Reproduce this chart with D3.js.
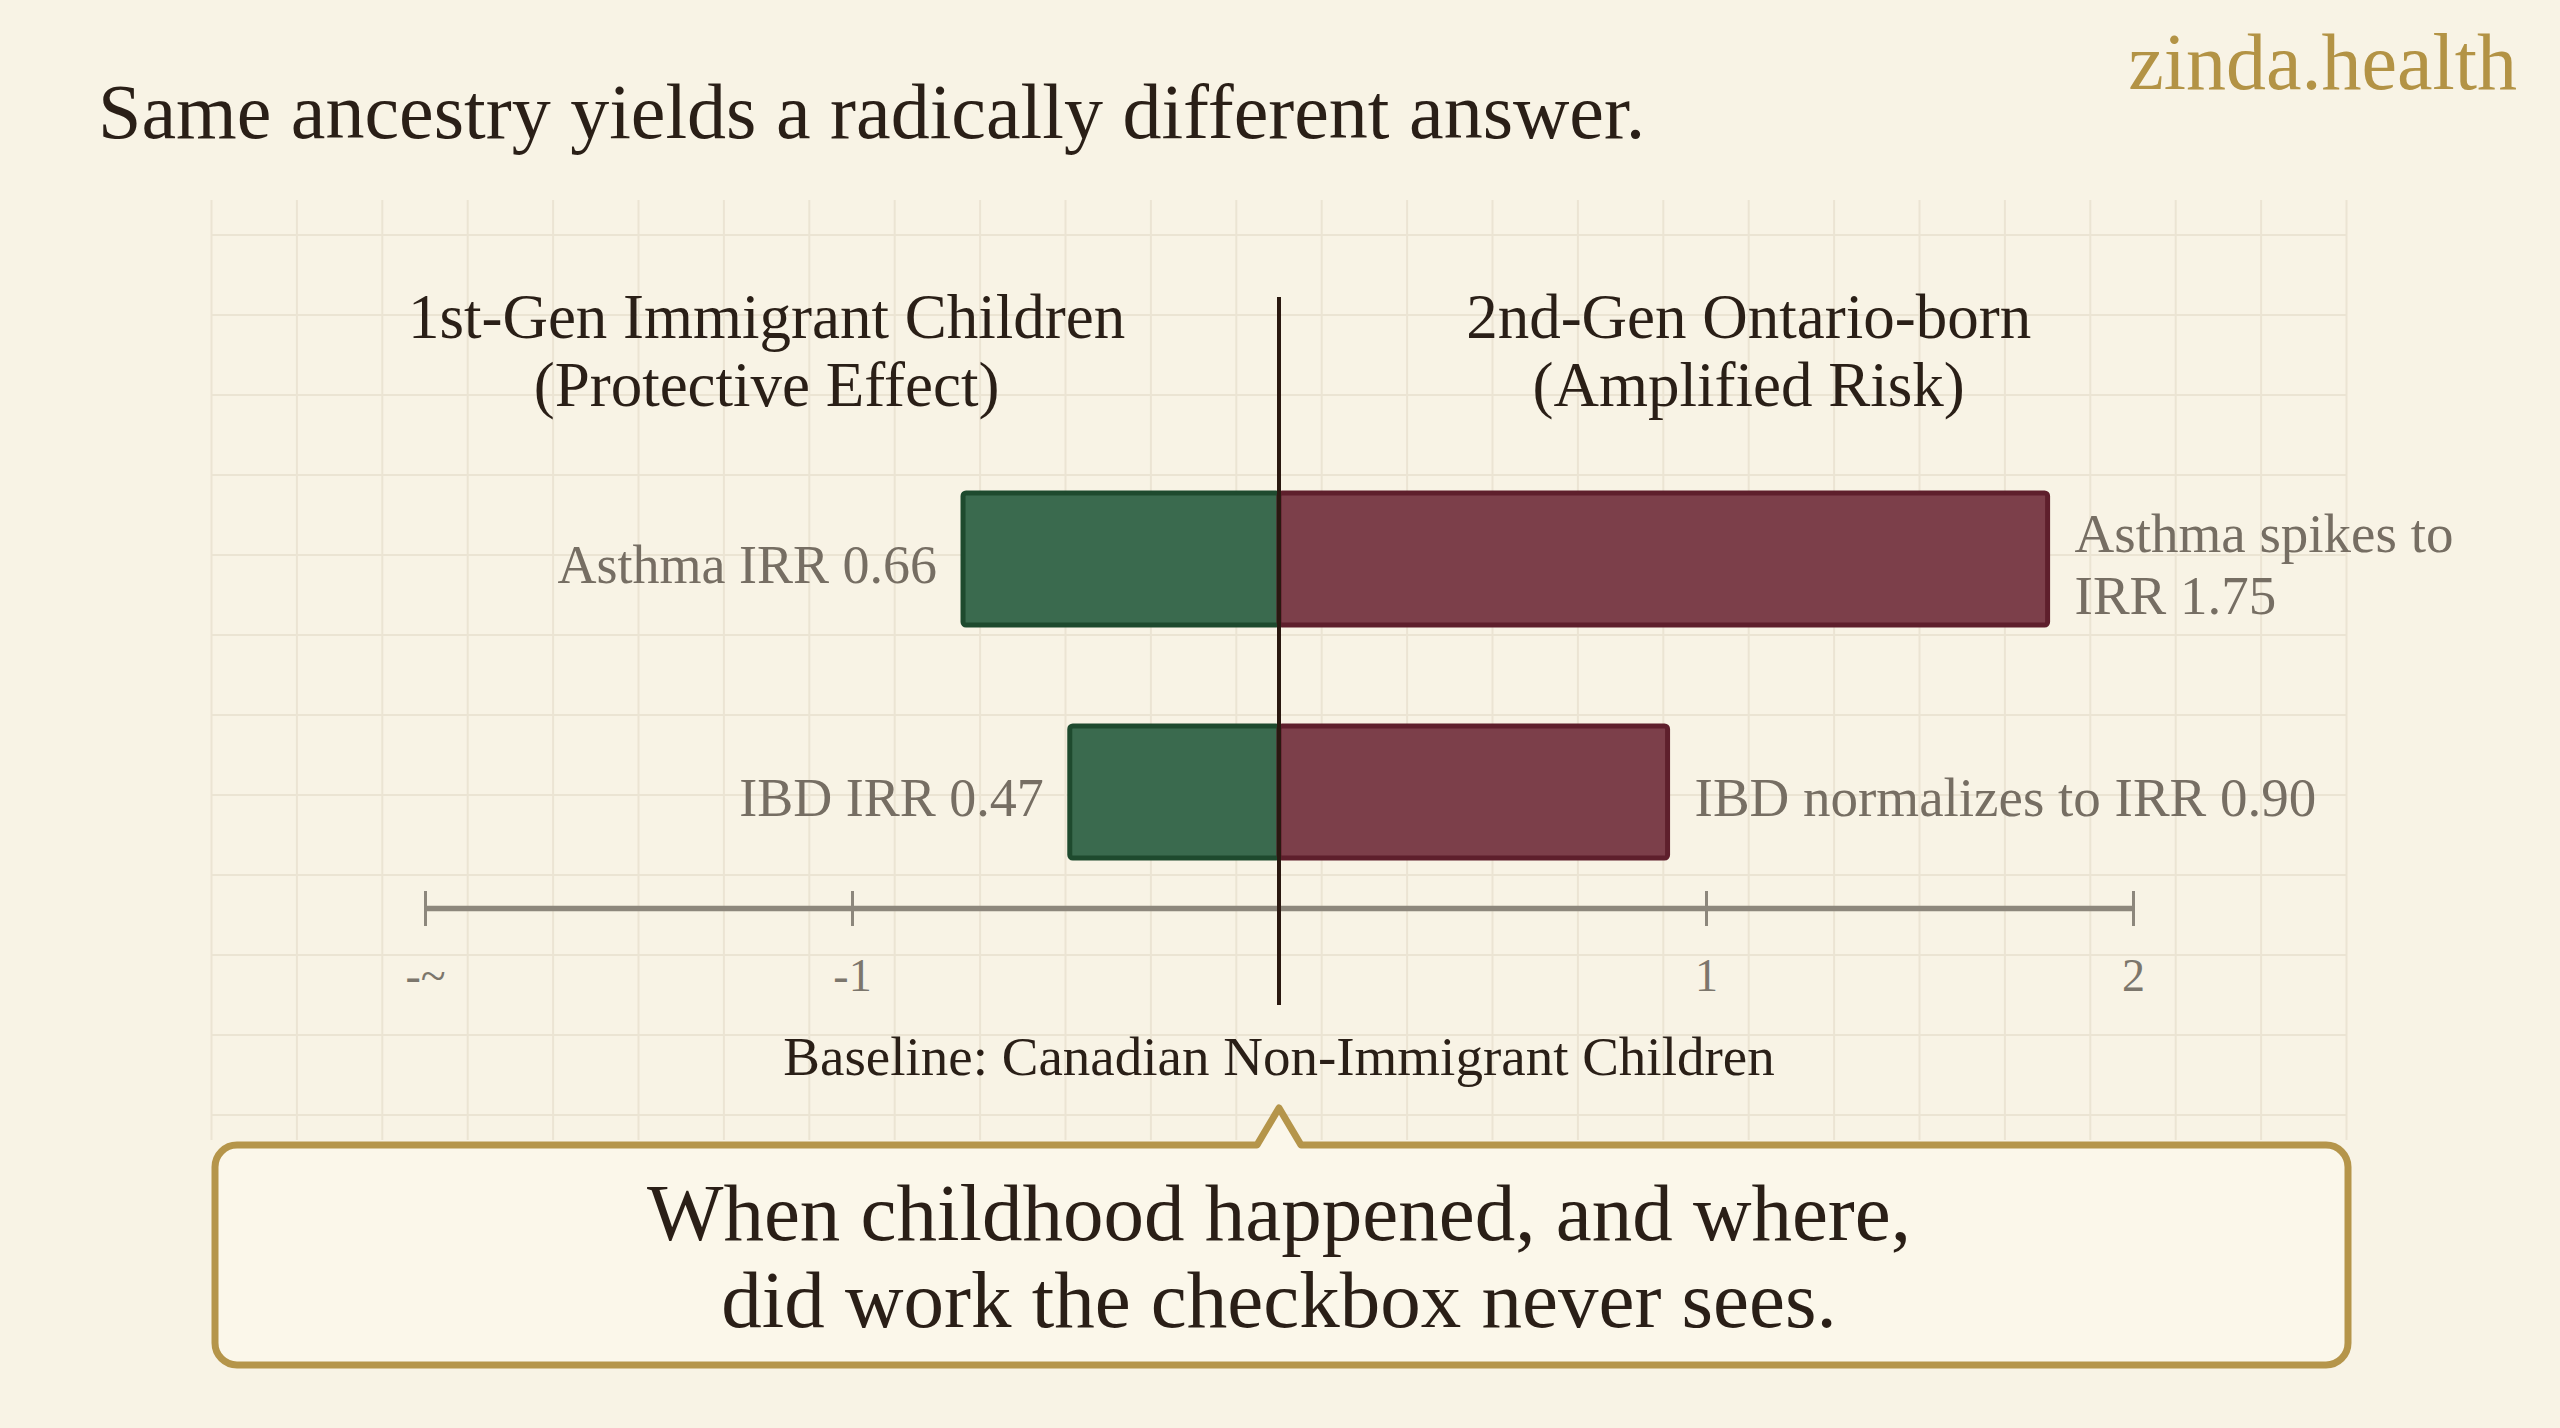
<!DOCTYPE html>
<html>
<head>
<meta charset="utf-8">
<script src="https://cdn.jsdelivr.net/npm/d3@7"></script>
<style>
  body { margin: 0; background: #f8f3e6; }
  svg { display: block; }
  text { font-family: "Liberation Serif", "DejaVu Serif", serif; }
</style>
</head>
<body>
<div id="chart"></div>
<script>
// values (bar lengths, in IRR-ish units from the centre line)
var conditions = ["Asthma", "IBD"];
var firstGen = [0.74, 0.49];
var secondGen = [1.80, 0.91];
var firstGenLabels = ["Asthma IRR 0.66", "IBD IRR 0.47"];
var secondGenLabels = [["Asthma spikes to", "IRR 1.75"], ["IBD normalizes to IRR 0.90"]];
var tickValues = [-2, -1, 1, 2];
var tickLabels = ["-~", "-1", "1", "2"];
var headers = [["1st-Gen Immigrant Children", "(Protective Effect)"], ["2nd-Gen Ontario-born", "(Amplified Risk)"]];
var headerPos = [-1.2, 1.1];
var takeaway = ["When childhood happened, and where,", "did work the checkbox never sees."];

var W = 2560, H = 1428;
var svg = d3.select("#chart").append("svg")
    .attr("width", W)
    .attr("height", H);

svg.append("rect").attr("width", W).attr("height", H).attr("fill", "#f8f3e5");

var x = d3.scaleLinear().domain([-2, 2]).range([425, 2133]);
var y = d3.scaleBand().domain(conditions).range([493, 858]).paddingInner(0.433).paddingOuter(0);
var axisY = 908;

// graph paper
var grid = svg.append("g").attr("stroke", "#ebe4d3").attr("stroke-width", 2);
grid.selectAll("line.v").data(d3.range(-2.5, 2.51, 0.2)).enter().append("line")
    .attr("class", "v")
    .attr("x1", function(d){ return x(d); })
    .attr("x2", function(d){ return x(d); })
    .attr("y1", 200).attr("y2", 1140);
grid.selectAll("line.h").data(d3.range(235, 1120, 80)).enter().append("line")
    .attr("class", "h")
    .attr("x1", 212).attr("x2", 2347)
    .attr("y1", function(d){ return d; })
    .attr("y2", function(d){ return d; });

// title + brand
svg.append("text").attr("x", 98).attr("y", 138)
    .attr("font-size", 78).attr("fill", "#2a1f17")
    .text("Same ancestry yields a radically different answer.");
svg.append("text").attr("x", 2517).attr("y", 89)
    .attr("text-anchor", "end").attr("font-size", 80).attr("fill", "#b39345")
    .text("zinda.health");

// column headers
headers.forEach(function(lines, i){
    var t = svg.append("text").attr("text-anchor", "middle")
        .attr("font-size", 63).attr("fill", "#2a1f17");
    lines.forEach(function(l, j){
        t.append("tspan").attr("x", x(headerPos[i])).attr("y", 338 + j*68).text(l);
    });
});

// axis
var axis = d3.axisBottom(x).tickValues(tickValues)
    .tickFormat(function(d, i){ return tickLabels[i]; })
    .tickSize(18).tickSizeOuter(0).tickPadding(32);
var gx = svg.append("g").attr("transform", "translate(0," + axisY + ")").call(axis);
gx.select(".domain").attr("stroke", "#8d877c").attr("stroke-width", 5.5);
gx.selectAll(".tick line").attr("y1", -17).attr("stroke", "#8d877c").attr("stroke-width", 3);
gx.selectAll(".tick text").attr("font-size", 46).attr("fill", "#7c766c")
    .attr("font-family", "'DejaVu Sans', sans-serif").attr("font-weight", 300);

// bars
var bars = svg.append("g");
bars.selectAll("rect.first").data(firstGen).enter().append("rect")
    .attr("class", "first")
    .attr("x", function(d){ return x(-d); })
    .attr("y", function(d, i){ return y(conditions[i]); })
    .attr("width", function(d){ return x(0) - x(-d); })
    .attr("height", y.bandwidth())
    .attr("rx", 3)
    .attr("fill", "#3a6a4e").attr("stroke", "#1e4a2e").attr("stroke-width", 5);
bars.selectAll("rect.second").data(secondGen).enter().append("rect")
    .attr("class", "second")
    .attr("x", x(0))
    .attr("y", function(d, i){ return y(conditions[i]); })
    .attr("width", function(d){ return x(d) - x(0); })
    .attr("height", y.bandwidth())
    .attr("rx", 3)
    .attr("fill", "#7c3f4a").attr("stroke", "#5e1f2c").attr("stroke-width", 5);

// bar labels
bars.selectAll("text.first").data(firstGen).enter().append("text")
    .attr("class", "first")
    .attr("x", function(d){ return x(-d) - 26; })
    .attr("y", function(d, i){ return y(conditions[i]) + y.bandwidth()/2 + 24; })
    .attr("text-anchor", "end").attr("font-size", 54).attr("fill", "#766e63")
    .text(function(d, i){ return firstGenLabels[i]; });
bars.selectAll("text.second").data(secondGen).enter().append("text")
    .attr("class", "second")
    .attr("font-size", 55).attr("fill", "#766e63")
    .each(function(d, i){
        var lines = secondGenLabels[i];
        var cy = y(conditions[i]) + y.bandwidth()/2 + 24 - (lines.length - 1) * 31;
        var t = d3.select(this);
        lines.forEach(function(l, j){
            t.append("tspan").attr("x", x(d) + 27).attr("y", cy + j*62).text(l);
        });
    });

// baseline
svg.append("line").attr("x1", x(0)).attr("x2", x(0)).attr("y1", 297).attr("y2", 1005)
    .attr("stroke", "#2a1810").attr("stroke-width", 4);
svg.append("text").attr("x", x(0)).attr("y", 1075)
    .attr("text-anchor", "middle").attr("font-size", 55).attr("fill", "#2a1f17")
    .text("Baseline: Canadian Non-Immigrant Children");

// takeaway callout
var bx0 = 215, bx1 = 2348, by0 = 1145, by1 = 1365, r = 22, px = x(0), pw = 22;
var p = d3.path();
p.moveTo(bx0 + r, by0);
p.lineTo(px - pw, by0);
p.lineTo(px, 1108);
p.lineTo(px + pw, by0);
p.lineTo(bx1 - r, by0);
p.arcTo(bx1, by0, bx1, by0 + r, r);
p.lineTo(bx1, by1 - r);
p.arcTo(bx1, by1, bx1 - r, by1, r);
p.lineTo(bx0 + r, by1);
p.arcTo(bx0, by1, bx0, by1 - r, r);
p.lineTo(bx0, by0 + r);
p.arcTo(bx0, by0, bx0 + r, by0, r);
p.closePath();
svg.append("path").attr("d", p.toString())
    .attr("fill", "#fbf7ea").attr("stroke", "#b5954a").attr("stroke-width", 7)
    .attr("stroke-linejoin", "round");
var tk = svg.append("text").attr("text-anchor", "middle")
    .attr("font-size", 81).attr("fill", "#2a1f17");
takeaway.forEach(function(l, j){
    tk.append("tspan").attr("x", px).attr("y", 1240 + j*87).text(l);
});
</script>
</body>
</html>
